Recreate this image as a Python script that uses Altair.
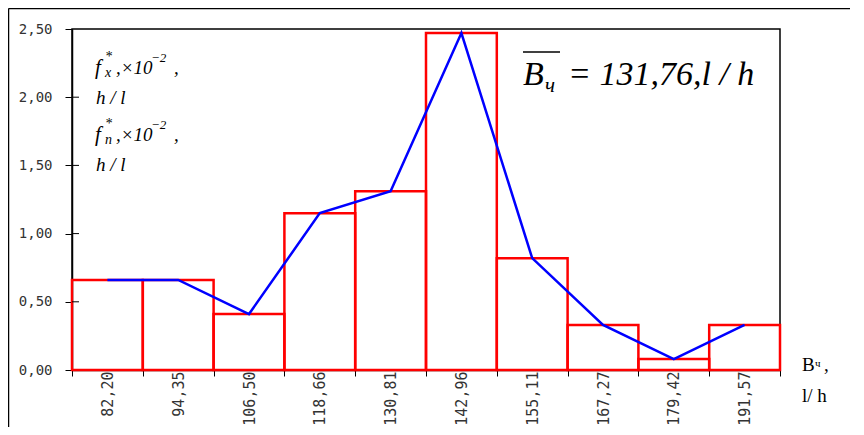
import altair as alt
import pandas as pd

# ---- data ----
bin_labels = ["82,20", "94,35", "106,50", "118,66", "130,81",
              "142,96", "155,11", "167,27", "179,42", "191,57"]
hist_values = [0.66, 0.66, 0.41, 1.15, 1.31, 2.47, 0.82, 0.33, 0.08, 0.33]
poly_values = [0.66, 0.66, 0.41, 1.15, 1.31, 2.47, 0.82, 0.33, 0.08, 0.33]
y_ticks = [0.0, 0.5, 1.0, 1.5, 2.0, 2.5]
inner_ticks = [0.5, 1.0, 1.5, 2.0]

mean_text = "= 131,76,l / h"

W, H = 708, 341

df_hist = pd.DataFrame({"bin": bin_labels, "v": hist_values})
df_poly = pd.DataFrame({"bin": bin_labels, "v": poly_values})
df_ticks = pd.DataFrame({"v": inner_ticks})
one = pd.DataFrame({"k": [0]})

xs = alt.Scale(domain=bin_labels, paddingInner=0, paddingOuter=0)
ys = alt.Scale(domain=[0, 2.5], nice=False, zero=True)

x_enc = alt.X("bin:O", sort=bin_labels, scale=xs, title=None,
              axis=alt.Axis(tickBand="extent", labelAngle=270, labelAlign="right",
                            labelBaseline="middle", labelFont="DejaVu Sans Mono",
                            labelFontSize=15, labelColor="#333333", labelPadding=-5,
                            tickSize=6, tickColor="black", domainColor="black",
                            domainWidth=1.5, tickWidth=1))
y_enc = alt.Y("v:Q", scale=ys, title=None,
              axis=alt.Axis(values=y_ticks,
                            labelExpr="replace(format(datum.value, '.2f'), '.', ',')",
                            labelFont="DejaVu Sans Mono", labelFontSize=14,
                            labelColor="#333333", labelPadding=13, tickSize=7,
                            tickColor="black", domainColor="black", domainWidth=1.5))

bars = alt.Chart(df_hist).mark_bar(fillOpacity=0, stroke="#ff0000", strokeWidth=2.5).encode(
    x=x_enc, y=y_enc)
line = alt.Chart(df_poly).mark_line(color="#0000ff", strokeWidth=2.5).encode(
    x=alt.X("bin:O", sort=bin_labels, scale=xs),
    y=alt.Y("v:Q", scale=ys))
inner = alt.Chart(df_ticks).mark_rule(color="black", strokeWidth=1).encode(
    x=alt.value(0), x2=alt.value(7), y=alt.Y("v:Q", scale=ys))

frame_top = alt.Chart(one).mark_rule(color="black", strokeWidth=1.5).encode(
    x=alt.value(-63.5), x2=alt.value(W + 70), y=alt.value(-20.5))
frame_left = alt.Chart(one).mark_rule(color="black", strokeWidth=1.5).encode(
    x=alt.value(-63.5), y=alt.value(-20.5), y2=alt.value(H + 60))


def txt(s, x, y, size, italic=True, font="Liberation Serif"):
    return alt.Chart(pd.DataFrame({"t": [s]})).mark_text(
        align="left", baseline="alphabetic", font=font, fontSize=size,
        fontStyle="italic" if italic else "normal", color="black").encode(
        x=alt.value(x), y=alt.value(y), text="t:N")


ann = []
for dy, sub in [(0, "x"), (67, "n")]:
    ann += [
        txt("f", 23, 45 + dy, 21),
        txt("*", 33, 32 + dy, 14),
        txt(sub, 33, 48 + dy, 14),
        txt(",×10", 44, 45 + dy, 19),
        txt("−2", 79, 33 + dy, 13),
        txt(",", 102, 45 + dy, 19),
        txt("h / l", 24, 75 + dy, 19),
    ]

ann += [
    txt("B", 451, 56, 34),
    txt("ч", 473, 63, 21),
    txt(mean_text, 496, 56, 34),
    txt("B", 730, 342, 19, italic=False),
    txt("ч", 743, 338, 11, italic=False),
    txt(",", 752, 342, 19, italic=False),
    txt("l/ h", 730, 373, 19, italic=False),
]
overline = alt.Chart(one).mark_rule(color="black", strokeWidth=1.5).encode(
    x=alt.value(451), x2=alt.value(488), y=alt.value(23))

chart = alt.layer(bars, line, inner, frame_top, frame_left, overline, *ann).properties(
    width=W, height=H,
    autosize=alt.AutoSizeParams(type="none"),
    padding={"left": 64, "top": 21, "right": 70, "bottom": 57},
).configure_view(stroke="black", strokeWidth=1.5).configure_axis(grid=False)

chart.save("out.html", embed_options={"renderer": "svg", "actions": False})
